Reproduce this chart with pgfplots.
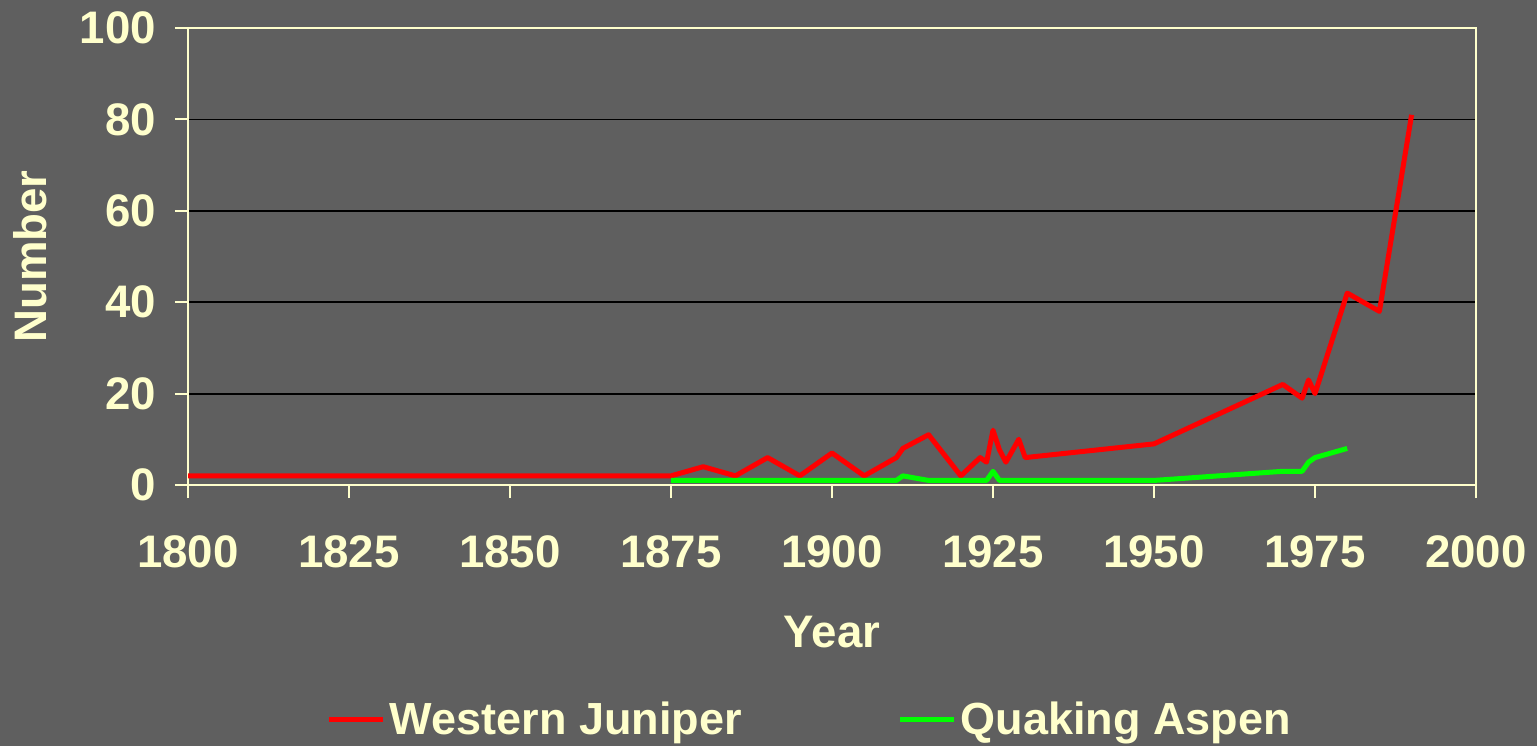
\documentclass[border=0pt]{standalone}
\usepackage{fontspec}
\setmainfont{Liberation Sans}
\usepackage{pgfplots}
\pgfplotsset{compat=1.18}
\definecolor{bg}{HTML}{5F5F5F}
\definecolor{txt}{HTML}{FFFFCC}
\definecolor{jred}{HTML}{FF0000}
\definecolor{agreen}{HTML}{00FF00}
\begin{document}
\begin{tikzpicture}
\fill[bg] (0pt,0pt) rectangle (768.5pt,373pt);
\begin{axis}[
  at={(94pt,130.5pt)}, anchor=south west,
  scale only axis, width=644pt, height=228.5pt,
  xmin=1800, xmax=2000, ymin=0, ymax=100,
  xtick={1800,1825,...,2000}, ytick={0,20,...,100},
  axis line style={txt, line width=1.3pt},
  tick style={txt, line width=1pt},
  tick align=outside, major tick length=6.5pt,
  xtick pos=bottom, ytick pos=left,
  ymajorgrids, major grid style={black, line width=0.9pt},
  /pgf/number format/1000 sep={},
  /pgf/number format/assume math mode=true,
  font=\fontsize{22.8pt}{26pt}\selectfont\bfseries,
  every tick label/.append style={text=txt},
  xticklabel style={anchor=center, yshift=-27pt},
  yticklabel style={anchor=east, xshift=-6pt},
  xlabel={Year}, ylabel={Number},
  label style={text=txt},
  xlabel style={at={(axis description cs:0.5,-0.322)}, anchor=center},
  ylabel style={at={(axis description cs:-0.1227,0.5)}, anchor=center, rotate=0},
  legend style={at={(axis description cs:0.4835,-0.514)}, anchor=center,
    draw=none, fill=none, text=txt, font=\fontsize{22.5pt}{26pt}\selectfont\bfseries,
    /tikz/every even column/.append style={column sep=76pt}},
  legend columns=2,
  legend cell align=left,
  legend image code/.code={\draw[#1, line width=2.5pt] (0pt,0pt) -- (27pt,0pt);},
  every axis plot/.append style={line width=2.5pt, line join=round},
]
\addplot[jred, no marks] coordinates {
(1800,2) (1875,2) (1880,4) (1885,2) (1890,6) (1895,2) (1900,7) (1905,2)
(1910,6) (1911,8) (1915,11) (1920,2) (1923,6) (1924,5) (1925,12) (1926,7.7)
(1927,5) (1929,10) (1930,6) (1950,9) (1970,22) (1973,19) (1974,23) (1975,20)
(1980,42) (1985,38) (1990,81)
};
\addlegendentry{Western Juniper}
\addplot[agreen, no marks] coordinates {
(1875,1) (1910,1) (1911,2) (1915,1) (1924,1) (1925,3) (1926,1) (1950,1)
(1970,3) (1973,3) (1974,5) (1975,6) (1980,8)
};
\addlegendentry{Quaking Aspen}
\end{axis}
\end{tikzpicture}
\end{document}
